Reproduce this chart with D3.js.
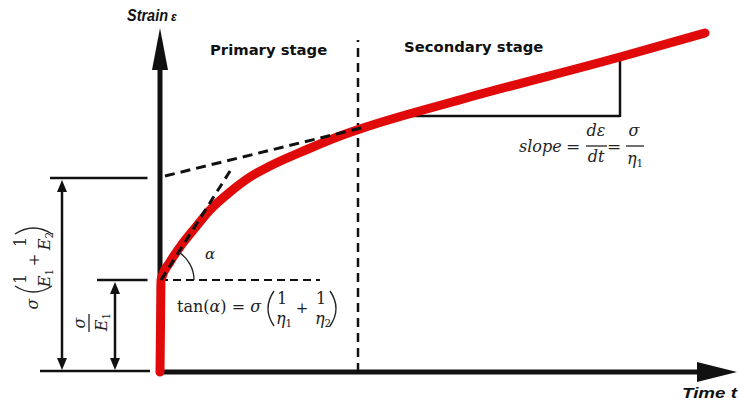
<!DOCTYPE html>
<html>
<head>
<meta charset="utf-8">
<script src="https://cdn.jsdelivr.net/npm/d3@7"></script>
<style>
  body { margin: 0; background: #fff; }
  svg { display: block; }
  .lbl { font-family: "DejaVu Sans", sans-serif; font-weight: bold; fill: #111; }
  .ax { font-family: "Liberation Sans", Arial, sans-serif; font-weight: bold; font-style: italic; fill: #111; }
  .m { font-family: "DejaVu Serif", serif; fill: #222; }
  .mi { font-family: "DejaVu Serif", serif; font-style: italic; fill: #222; }
</style>
</head>
<body>
<div id="chart"></div>
<script>
// creep curve (time, strain in arbitrary units)
var time   = [0, 0.01, 0.02, 0.2, 0.4, 0.7, 1.0, 1.4, 1.8, 2.2, 2.94, 3.6, 4.0, 6.06, 9.2, 10.9];
var strain = [0, 0.9, 1.84, 2.2, 2.5, 2.88, 3.24, 3.6, 3.9, 4.12, 4.45, 4.72, 4.86, 5.46, 6.3, 6.78];

var elastic = 1.84;      // sigma / E1
var delayed = 3.88;      // sigma/E1 + sigma/E2
var tangentEnd = [1.44, 4.08];
var asymptote = [[0.1, 3.92], [4.1, 4.9]];
var stageSplit = 3.96;
var slopeTri = {t0: 4.86, t1: 9.2, e0: 5.12, e1: 6.3};

var stageLabels = ["Primary stage", "Secondary stage"];
var axisLabels = ["Strain", "Time t"];

var W = 740, H = 405;
var svg = d3.select("#chart").append("svg").attr("width", W).attr("height", H);

var x = d3.scaleLinear().domain([0, 11.5]).range([160, 735]);
var y = d3.scaleLinear().domain([0, 6.9]).range([372, 27]);

function line(g, x1, y1, x2, y2, w, dash) {
    var l = g.append("line")
        .attr("x1", x1).attr("y1", y1).attr("x2", x2).attr("y2", y2)
        .attr("stroke", "#111").attr("stroke-width", w);
    if (dash) l.attr("stroke-dasharray", dash);
    return l;
}

// left dimension lines
line(svg, x(-2.2), y(delayed), x(-0.25), y(delayed), 2.5);
line(svg, x(-1.26), y(elastic), x(-0.25), y(elastic), 2.5);
line(svg, x(-2.4), y(0) - 1, x(-0.2), y(0) - 1, 2.5);

function dimArrow(px, ya, yb) {
    line(svg, px, ya + 8, px, yb - 8, 2.5);
    svg.append("path").attr("d", "M" + px + "," + ya + "l-5,12l10,0z").attr("fill", "#111");
    svg.append("path").attr("d", "M" + px + "," + yb + "l-5,-12l10,0z").attr("fill", "#111");
}
dimArrow(x(-1.96), y(delayed) + 2, y(0) - 2);
dimArrow(x(-0.9), y(elastic) + 2, y(0) - 2);

// axes
line(svg, x(0), y(0), x(0), y(6.9) + 40, 5);
svg.append("path")
    .attr("d", "M" + x(0) + "," + (y(6.9) + 1) + "l-8,42l16,0z").attr("fill", "#111");
line(svg, x(0), y(0), x(11.5) - 38, y(0), 5);
svg.append("path")
    .attr("d", "M" + (x(11.5) + 2) + "," + y(0) + "l-40,-10l0,20z").attr("fill", "#111");

// stage divider
line(svg, x(stageSplit), y(0), x(stageSplit), y(6.64), 2.5, "9,6");

// horizontal dashed at elastic strain
line(svg, x(0), y(elastic), x(3.2), y(elastic), 1.8, "8,5");

// slope triangle
line(svg, x(slopeTri.t0), y(slopeTri.e0), x(slopeTri.t1), y(slopeTri.e0), 2.5);
line(svg, x(slopeTri.t1), y(slopeTri.e0) + 1, x(slopeTri.t1), y(slopeTri.e1), 2.5);

// red creep curve
var pts = time.map(function(t, i) { return [t, strain[i]]; });
var path = d3.line()
    .x(function(d) { return x(d[0]); })
    .y(function(d) { return y(d[1]); })
    .curve(d3.curveMonotoneX);
svg.append("path").datum(pts)
    .attr("d", path)
    .attr("fill", "none")
    .attr("stroke", "#e00a0a")
    .attr("stroke-width", 9)
    .attr("stroke-linecap", "round")
    .attr("stroke-linejoin", "round");

// tangent and asymptote dashes
line(svg, x(0.02), y(elastic), x(tangentEnd[0]), y(tangentEnd[1]), 3, "9,6");
line(svg, x(asymptote[0][0]), y(asymptote[0][1]), x(asymptote[1][0]), y(asymptote[1][1]), 3, "10,6");

// alpha arc
var ang = Math.atan2(y(elastic) - y(tangentEnd[1]), x(tangentEnd[0]) - x(0.02));
var arc = d3.arc().innerRadius(33).outerRadius(33).startAngle(Math.PI / 2 - ang).endAngle(Math.PI / 2);
svg.append("path").attr("d", arc())
    .attr("transform", "translate(" + x(0.02) + "," + y(elastic) + ")")
    .attr("fill", "none").attr("stroke", "#222").attr("stroke-width", 1.3);
svg.append("text").attr("class", "mi").attr("x", 205).attr("y", 259).attr("font-size", 15).text("α");

// stage labels
svg.append("text").attr("class", "lbl").attr("x", 210).attr("y", 55).attr("font-size", 14.8).text(stageLabels[0]);
svg.append("text").attr("class", "lbl").attr("x", 404).attr("y", 52).attr("font-size", 14.8).text(stageLabels[1]);

// axis labels
svg.append("text").attr("class", "ax").attr("x", 127).attr("y", 21).attr("font-size", 16)
    .attr("textLength", 41).attr("lengthAdjust", "spacingAndGlyphs").text(axisLabels[0]);
svg.append("text").attr("class", "ax").attr("x", 171).attr("y", 21).attr("font-size", 12).text("ε");
svg.append("text").attr("class", "ax").attr("x", 682).attr("y", 398).attr("font-size", 15.5)
    .attr("textLength", 55).attr("lengthAdjust", "spacingAndGlyphs").text(axisLabels[1]);

// helpers for math text
function txt(g, cls, px, py, s, size, anchor) {
    return g.append("text").attr("class", cls).attr("x", px).attr("y", py)
        .attr("font-size", size).attr("text-anchor", anchor || "middle").text(s);
}
function sub(g, px, py, main, idx, size) {
    var t = g.append("text").attr("class", "mi").attr("x", px).attr("y", py)
        .attr("font-size", size).attr("text-anchor", "middle");
    t.append("tspan").text(main);
    t.append("tspan").attr("font-style", "normal").attr("font-size", size * 0.65).attr("dy", 3).text(idx);
    return t;
}
// tall bracket drawn as a curve; dir = 1 for "(" and -1 for ")"
function paren(g, px, y0, y1, dir) {
    var bulge = 6 * dir;
    g.append("path")
        .attr("d", "M" + (px + bulge) + "," + y0 + "Q" + (px - bulge) + "," + ((y0 + y1) / 2) + " " + (px + bulge) + "," + y1)
        .attr("fill", "none").attr("stroke", "#222").attr("stroke-width", 1.4);
}

// tan(alpha) formula
var tf = svg.append("g");
var t1 = tf.append("text").attr("class", "m").attr("x", 177).attr("y", 312).attr("font-size", 16);
t1.append("tspan").text("tan(");
t1.append("tspan").attr("font-style", "italic").text("α");
t1.append("tspan").text(") = ");
t1.append("tspan").attr("font-style", "italic").text("σ");
paren(tf, 268, 291, 326, 1);
paren(tf, 336, 291, 326, -1);
txt(tf, "m", 282, 304, "1", 16);
sub(tf, 284, 324, "η", "1", 16);
txt(tf, "m", 302, 313, "+", 15);
txt(tf, "m", 321, 304, "1", 16);
sub(tf, 323, 324, "η", "2", 16);

// slope formula
var sf = svg.append("g");
txt(sf, "mi", 519, 152, "slope", 16, "start");
txt(sf, "m", 573, 152, "=", 17);
txt(sf, "mi", 596, 136, "dε", 16);
line(sf, 586, 146, 607, 146, 1.2);
txt(sf, "mi", 596, 162, "dt", 16);
txt(sf, "m", 614, 152, "=", 17);
txt(sf, "mi", 634, 136, "σ", 16);
line(sf, 626, 146, 644, 146, 1.2);
sub(sf, 635, 164, "η", "1", 16);

// rotated sigma/E1
var g1 = svg.append("g").attr("transform", "translate(91,323) rotate(-90)");
txt(g1, "mi", 0, -6, "σ", 16);
line(g1, -9, -2, 9, -2, 1.2);
sub(g1, 1, 16, "E", "1", 16);

// rotated sigma(1/E1 + 1/E2)
var g2 = svg.append("g").attr("transform", "translate(32,265) rotate(-90)");
txt(g2, "mi", -39, 6, "σ", 16);
paren(g2, -27, -17, 20, 1);
txt(g2, "m", -14, -6, "1", 16);
sub(g2, -13, 18, "E", "1", 16);
txt(g2, "m", 5, 7, "+", 15);
txt(g2, "m", 23, -6, "1", 16);
sub(g2, 24, 18, "E", "2", 16);
paren(g2, 37, -17, 20, -1);
</script>
</body>
</html>
